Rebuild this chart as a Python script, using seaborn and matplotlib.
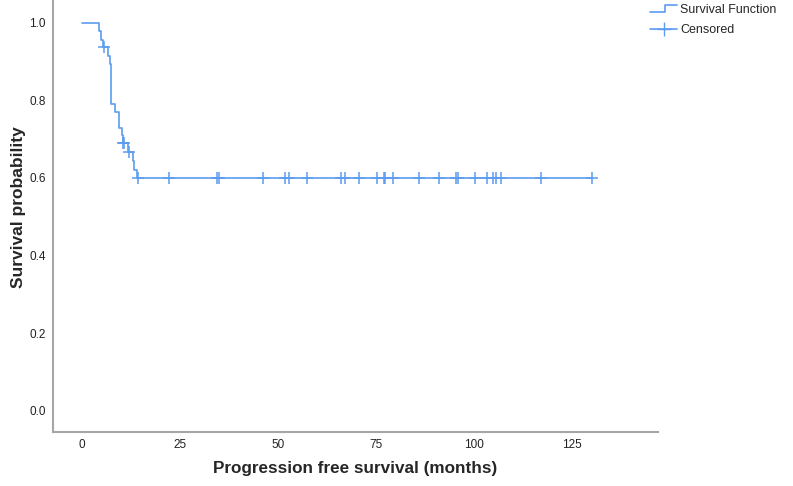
import matplotlib
matplotlib.use('Agg')
import matplotlib.pyplot as plt
import pandas as pd
import seaborn as sns
from matplotlib.lines import Line2D
from matplotlib.legend_handler import HandlerBase

# Kaplan-Meier steps (months, survival after the step)
step_times = [0, 4.3, 5.0, 5.5, 6.7, 7.3, 7.5, 8.5, 9.6, 10.3, 10.6, 11.8, 13.0, 13.2, 14.1, 130.0]
step_surv = [1.0, 0.977, 0.955, 0.936, 0.914, 0.893, 0.790, 0.770, 0.728, 0.709, 0.690, 0.666, 0.643, 0.619, 0.600, 0.600]

# censored observations (months, survival at that time)
censor_times = [5.8, 10.6, 10.9, 12.1, 14.3, 22.3, 34.5, 34.9, 46.2, 51.9, 52.8, 57.4,
                66.2, 67.2, 70.8, 75.3, 77.0, 77.4, 79.3, 85.9, 91.2, 95.5, 95.9,
                100.4, 103.4, 104.9, 105.7, 106.9, 117.2, 130.0]
censor_surv = [0.936, 0.690, 0.690, 0.666, 0.600] + [0.600] * 25

blue = '#5b9cf0'
grey = '#a6a6a6'

sns.set_style('white')
plt.rcParams['font.family'] = ['Liberation Sans', 'DejaVu Sans']

steps = pd.DataFrame({'time': step_times, 'surv': step_surv})
cens = pd.DataFrame({'time': censor_times, 'surv': censor_surv})


class StepHandler(HandlerBase):
    # little step glyph like the one in the legend
    def create_artists(self, legend, orig, xd, yd, w, h, fontsize, trans):
        xs = [xd, xd + w * 0.55, xd + w * 0.55, xd + w]
        ys = [yd + h * 0.1, yd + h * 0.1, yd + h * 0.9, yd + h * 0.9]
        ln = Line2D(xs, ys, color=blue, lw=1.2, transform=trans)
        return [ln]


fig = plt.figure(figsize=(7.93, 4.86), dpi=100)
ax = fig.add_axes([0.0665, 0.111, 0.7635, 0.889])

sns.lineplot(data=steps, x='time', y='surv', drawstyle='steps-post',
             color=blue, linewidth=1.2, ax=ax, estimator=None, sort=False)
sns.scatterplot(data=cens, x='time', y='surv', marker='+', s=70,
                color=blue, linewidth=1.1, ax=ax, zorder=3)

ax.set_xlim(-7.4, 147)
ax.set_ylim(-0.055, 1.058)
ax.set_xticks([0, 25, 50, 75, 100, 125])
ax.set_yticks([0.0, 0.2, 0.4, 0.6, 0.8, 1.0])
ax.set_yticklabels(['0.0', '0.2', '0.4', '0.6', '0.8', '1.0'])
ax.tick_params(length=0, labelsize=8.5, colors='#222222', pad=5)

for s in ['top', 'right']:
    ax.spines[s].set_visible(False)
for s in ['left', 'bottom']:
    ax.spines[s].set_color(grey)
    ax.spines[s].set_linewidth(1.5)

ax.set_xlabel('Progression free survival (months)', fontsize=12.3, fontweight='bold', labelpad=7)
ax.set_ylabel('Survival probability', fontsize=12.5, fontweight='bold')
ax.yaxis.set_label_coords(-0.044, 0.52)

handles = [Line2D([], [], color=blue),
           Line2D([], [], color=blue, marker='+', markersize=10, lw=1.2)]
fig.legend(handles, ['Survival Function', 'Censored'],
           handler_map={handles[0]: StepHandler()},
           loc='upper left', bbox_to_anchor=(0.818, 0.995), frameon=False,
           fontsize=9, handlelength=2.2, handletextpad=0.2, labelspacing=0.7,
           borderaxespad=0, borderpad=0.1)

fig.savefig('out.png', dpi=100)
